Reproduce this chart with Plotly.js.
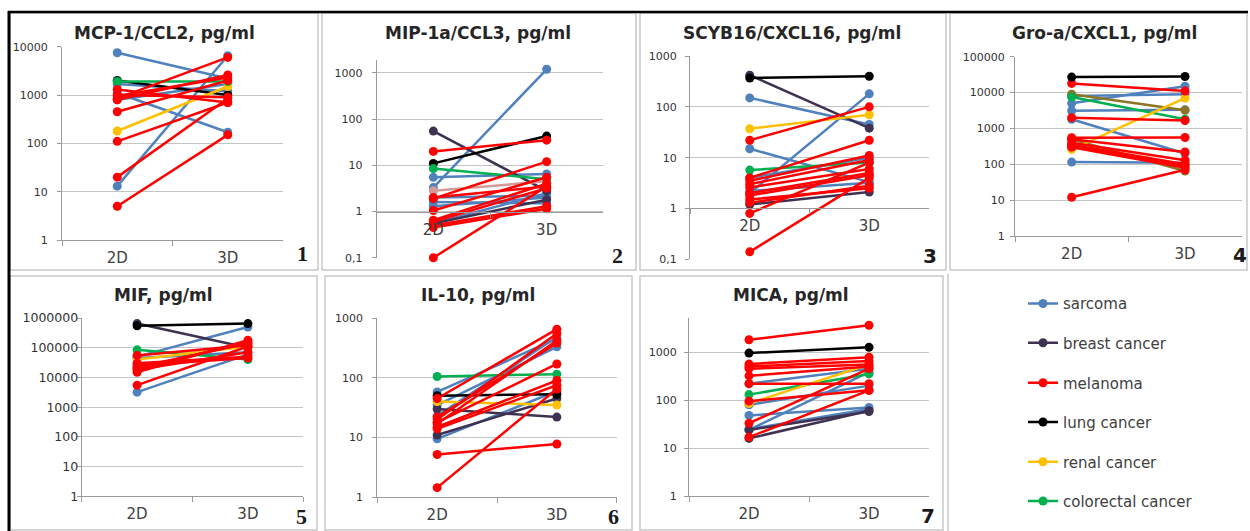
<!DOCTYPE html>
<html><head><meta charset="utf-8">
<script src="https://cdn.plot.ly/plotly-3.0.1.min.js"></script>
<style>html,body{margin:0;padding:0;background:#fff;}#chart{width:1250px;height:531px;}</style>
</head><body><div id="chart"></div>
<script>
// ---------- DATA ----------
const categories = ["2D", "3D"];
const cancerTypes = ["sarcoma", "breast cancer", "melanoma", "lung cancer", "renal cancer", "colorectal cancer"];
const panelTitles = ["MCP-1/CCL2, pg/ml", "MIP-1a/CCL3, pg/ml", "SCYB16/CXCL16, pg/ml", "Gro-a/CXCL1, pg/ml", "MIF, pg/ml", "IL-10, pg/ml", "MICA, pg/ml"];
const panelNumbers = ["1", "2", "3", "4", "5", "6", "7"];

// Panel 1: MCP-1/CCL2
const mcp_type = ["sarcoma","sarcoma","sarcoma","sarcoma","sarcoma","lung cancer","renal cancer","colorectal cancer","melanoma","melanoma","melanoma","melanoma","melanoma","melanoma","melanoma","melanoma","melanoma"];
const mcp_2D   = [7500, 13, 1100, 1700, 800, 2000, 180, 1900, 5, 20, 110, 450, 1300, 850, 800, 950, 1000];
const mcp_3D   = [2200, 6500, 170, 1200, 1700, 1000, 1500, 1900, 150, 850, 700, 2000, 700, 6000, 2600, 2300, 900];

// Panel 2: MIP-1a/CCL3
const mip_type = ["sarcoma","sarcoma","sarcoma","sarcoma","sarcoma","sarcoma","breast cancer","breast cancer","other","lung cancer","colorectal cancer","melanoma","melanoma","melanoma","melanoma","melanoma","melanoma","melanoma","melanoma","melanoma"];
const mip_2D   = [3.3, 5.5, 2.0, 1.3, 1.6, 0.55, 55, 0.55, 2.8, 11, 8.5, 20, 1.9, 2.0, 1.05, 0.65, 0.6, 0.5, 0.45, 0.1];
const mip_3D   = [1200, 6.5, 2.2, 2.0, 1.5, 2.5, 2.8, 1.8, 4.5, 43, 5, 35, 12, 3.5, 5.5, 4, 3.2, 1.3, 1.15, 3.5];

// Panel 3: SCYB16/CXCL16
const cxcl16_type = ["sarcoma","sarcoma","sarcoma","sarcoma","sarcoma","breast cancer","breast cancer","renal cancer","colorectal cancer","melanoma","melanoma","melanoma","melanoma","melanoma","melanoma","melanoma","melanoma","melanoma","melanoma","melanoma","lung cancer"];
const cxcl16_2D   = [150, 2, 15, 4, 2.2, 420, 1.2, 37, 5.7, 22, 4, 3.5, 3, 2.6, 2, 1.8, 1.5, 1.3, 0.8, 0.14, 370];
const cxcl16_3D   = [45, 180, 3.3, 10, 3.2, 38, 2.1, 70, 8, 100, 22, 11, 9, 6, 5, 4.5, 2.5, 2.8, 8, 4, 400];

// Panel 4: Gro-a/CXCL1
const gro_type = ["sarcoma","sarcoma","sarcoma","sarcoma","sarcoma","other2","other2","colorectal cancer","renal cancer","melanoma","melanoma","melanoma","melanoma","melanoma","melanoma","melanoma","melanoma","melanoma","lung cancer"];
const gro_2D   = [5000, 8000, 3100, 1800, 115, 9000, 500, 7500, 260, 18000, 2000, 550, 500, 400, 350, 300, 12, 320, 27000];
const gro_3D   = [15000, 9000, 3300, 200, 110, 3200, 65, 1800, 7000, 11000, 1650, 560, 220, 130, 100, 80, 70, 90, 28000];

// Panel 5: MIF
const mif_type = ["sarcoma","sarcoma","sarcoma","breast cancer","colorectal cancer","renal cancer","melanoma","melanoma","melanoma","melanoma","melanoma","melanoma","melanoma","melanoma","lung cancer"];
const mif_2D   = [50000, 3200, 45000, 650000, 85000, 40000, 5500, 15000, 20000, 25000, 30000, 55000, 18000, 22000, 550000];
const mif_3D   = [500000, 60000, 70000, 100000, 40000, 110000, 110000, 180000, 150000, 45000, 50000, 120000, 70000, 140000, 650000];

// Panel 6: IL-10
const il10_type = ["sarcoma","sarcoma","sarcoma","sarcoma","breast cancer","breast cancer","colorectal cancer","renal cancer","lung cancer","melanoma","melanoma","melanoma","melanoma","melanoma","melanoma","melanoma","melanoma","melanoma"];
const il10_2D   = [58, 35, 9.5, 23, 30, 11, 105, 40, 50, 45, 22, 20, 18, 15, 14, 5.2, 1.45, 17];
const il10_3D   = [450, 330, 60, 480, 22, 45, 115, 35, 53, 650, 380, 550, 170, 90, 75, 7.8, 65, 420];

// Panel 7: MICA
const mica_type = ["sarcoma","sarcoma","sarcoma","sarcoma","sarcoma","breast cancer","breast cancer","colorectal cancer","renal cancer","melanoma","melanoma","melanoma","melanoma","melanoma","melanoma","melanoma","melanoma","melanoma","lung cancer"];
const mica_2D   = [220, 80, 48, 24, 25, 16, 24, 130, 85, 1800, 560, 500, 450, 320, 220, 95, 33, 17, 950];
const mica_3D   = [450, 200, 70, 380, 65, 60, 58, 350, 550, 3600, 780, 650, 550, 500, 220, 160, 450, 160, 1250];

// Y tick values / labels
const ticks_1e4 = [1, 10, 100, 1000, 10000];
const ticks_01_1e3 = [0.1, 1, 10, 100, 1000];
const ticks_1e5 = [1, 10, 100, 1000, 10000, 100000];
const ticks_1e6 = [1, 10, 100, 1000, 10000, 100000, 1000000];
const ticks_1e3 = [1, 10, 100, 1000];
const labels_01 = ["0,1", "1", "10", "100", "1000"];

// ---------- STYLE / LAYOUT ----------
const W = 1250, H = 531;
const PX = v => v / W;
const PY = v => 1 - v / H;

const typeColors = {
  "sarcoma": "#4F81BD",
  "breast cancer": "#3F3151",
  "melanoma": "#FF0000",
  "lung cancer": "#000000",
  "renal cancer": "#FFC000",
  "colorectal cancer": "#00B050",
  "other": "#D49A97",
  "other2": "#8C7526"
};
const legendIds = ["legend", "legend2", "legend3", "legend4", "legend5", "legend6"];
const legendY = [303.7, 343, 383, 422.3, 462, 501.3];

const panelData = [
  [mcp_2D, mcp_3D, mcp_type, ticks_1e4, ticks_1e4.map(String)],
  [mip_2D, mip_3D, mip_type, ticks_01_1e3, labels_01],
  [cxcl16_2D, cxcl16_3D, cxcl16_type, ticks_01_1e3, labels_01],
  [gro_2D, gro_3D, gro_type, ticks_1e5, ticks_1e5.map(String)],
  [mif_2D, mif_3D, mif_type, ticks_1e6, ticks_1e6.map(String)],
  [il10_2D, il10_3D, il10_type, ticks_1e3, ticks_1e3.map(String)],
  [mica_2D, mica_3D, mica_type, ticks_1e3, ticks_1e3.map(String)]
];

const geom = [
  {x0: 62,    x1: 283,    yt: 46.7, yb: 240,   r: [0, 4],      cross: false, tf: 11,   so: 7,  title: [164, 33],    num: [302, 253],    numSerif: true},
  {x0: 376.7, x1: 603.3,  yt: 60,   yb: 257.7, r: [-1, 3.28],  cross: true,  tf: 11,   so: 7,  title: [477.5, 33],  num: [617, 256],    numSerif: true},
  {x0: 690,   x1: 929,    yt: 56,   yb: 259.3, r: [-1, 3],     cross: true,  tf: 11,   so: 6,  title: [791.7, 33],  num: [930, 256],    numSerif: false},
  {x0: 1015,  x1: 1241.7, yt: 56.7, yb: 236,   r: [0, 5],      cross: false, tf: 11,   so: 3,  title: [1104, 33],   num: [1240, 255],   numSerif: false},
  {x0: 81.7,  x1: 303.3,  yt: 318,  yb: 496.3, r: [0, 6],      cross: false, tf: 12.5, so: -4, title: [163.3, 294.5], num: [301.7, 516], numSerif: true},
  {x0: 377.3, x1: 616.7,  yt: 318,  yb: 497.3, r: [0, 3],      cross: false, tf: 11,   so: 7,  title: [477.5, 294.5], num: [613.3, 516], numSerif: true},
  {x0: 689,   x1: 929,    yt: 318,  yb: 496.3, r: [0, 3.707],  cross: false, tf: 11,   so: 5,  title: [790.8, 294.5], num: [928, 516],   numSerif: false}
];

const FONT = "DejaVu Sans, Verdana, sans-serif";
const axisColor = "#9a9a9a";
const gridColor = "#c4c4c4";

const layout = {
  width: W, height: H,
  margin: {l: 0, r: 0, t: 0, b: 0},
  paper_bgcolor: "#ffffff",
  plot_bgcolor: "rgba(0,0,0,0)",
  showlegend: true,
  hovermode: false,
  annotations: [],
  shapes: []
};

const traces = [];
const shown = new Set();

panelData.forEach((pd, i) => {
  const [v2, v3, tp, tv, tt] = pd;
  const g = geom[i];
  const k = i + 1;
  const sfx = k === 1 ? "" : String(k);
  const ydom = [PY(g.yb), PY(g.yt)];
  const xa = {
    domain: [PX(g.x0), PX(g.x1)],
    type: "category",
    categoryorder: "array",
    categoryarray: categories,
    range: [-0.5, 1.5],
    tickson: "boundaries",
    ticks: "outside", ticklen: 5, tickcolor: axisColor, tickwidth: 1,
    showline: true, linecolor: axisColor, linewidth: 1,
    showgrid: false, zeroline: false,
    tickfont: {family: FONT, size: 15, color: "#404040"},
    ticklabelstandoff: 4,
    fixedrange: true
  };
  if (g.cross) {
    xa.anchor = "free";
    xa.position = ydom[0] + (0 - g.r[0]) / (g.r[1] - g.r[0]) * (ydom[1] - ydom[0]);
  } else {
    xa.anchor = "y" + sfx;
  }
  layout["xaxis" + sfx] = xa;
  layout["yaxis" + sfx] = {
    domain: ydom,
    anchor: "x" + sfx,
    type: "log",
    range: g.r,
    tickmode: "array", tickvals: tv, ticktext: tt,
    ticks: "outside", ticklen: 4, tickcolor: axisColor, tickwidth: 1,
    showline: true, linecolor: axisColor, linewidth: 1,
    showgrid: true, gridcolor: gridColor, gridwidth: 1,
    zeroline: false,
    tickfont: {family: FONT, size: g.tf, color: "#333333"},
    ticklabelstandoff: g.so,
    fixedrange: true
  };

  for (let j = 0; j < v2.length; j++) {
    const t = tp[j];
    const li = cancerTypes.indexOf(t);
    const show = li >= 0 && !shown.has(t);
    if (show) shown.add(t);
    const tr = {
      type: "scatter", mode: "lines+markers",
      x: categories, y: [v2[j], v3[j]],
      xaxis: "x" + sfx, yaxis: "y" + sfx,
      name: t, legendgroup: t,
      showlegend: show,
      line: {color: typeColors[t], width: 2.5},
      marker: {color: typeColors[t], size: 9},
      cliponaxis: false,
      hoverinfo: "skip"
    };
    if (li >= 0) { tr.legend = legendIds[li]; tr.legendrank = li; }
    traces.push(tr);
  }

  layout.annotations.push({
    xref: "paper", yref: "paper", x: PX(g.title[0]), y: PY(g.title[1]),
    xanchor: "center", yanchor: "middle", showarrow: false,
    text: "<b>" + panelTitles[i] + "</b>",
    font: {family: FONT, size: 17, color: "#262626"}
  });
  layout.annotations.push({
    xref: "paper", yref: "paper", x: PX(g.num[0]), y: PY(g.num[1]),
    xanchor: "center", yanchor: "middle", showarrow: false,
    text: "<b>" + panelNumbers[i] + "</b>",
    font: {family: g.numSerif ? "Liberation Serif, serif" : FONT, size: g.numSerif ? 22 : 20, color: "#1a1a1a"}
  });
});

// legends
cancerTypes.forEach((t, li) => {
  layout[legendIds[li]] = {
    x: PX(1023), y: PY(legendY[li]), xanchor: "left", yanchor: "middle",
    bgcolor: "rgba(0,0,0,0)", borderwidth: 0,
    font: {family: FONT, size: 15, color: "#404040"},
    itemwidth: 30, tracegroupgap: 0
  };
});

// panel frames
const boxes = [[10,13,318,270],[322,13,636,270],[640,13,946,270],[950,13,1247,270],[10,276,317,530],[325,276,632,530],[640,276,943,530]];
boxes.forEach(b => {
  layout.shapes.push({type: "rect", xref: "paper", yref: "paper", x0: PX(b[0]), x1: PX(b[2]), y0: PY(b[3]), y1: PY(b[1]), line: {color: "#c8c8c8", width: 1.5}, fillcolor: "rgba(0,0,0,0)", layer: "below"});
});
layout.shapes.push({type: "line", xref: "paper", yref: "paper", x0: PX(948), x1: PX(948), y0: PY(274), y1: PY(531), line: {color: "#c8c8c8", width: 1.5}});
layout.shapes.push({type: "line", xref: "paper", yref: "paper", x0: PX(8), x1: PX(1248), y0: PY(12), y1: PY(12), line: {color: "#000000", width: 2.5}});
layout.shapes.push({type: "line", xref: "paper", yref: "paper", x0: PX(9), x1: PX(9), y0: PY(11), y1: PY(531), line: {color: "#000000", width: 3}});

Plotly.newPlot("chart", traces, layout, {displayModeBar: false, staticPlot: true});
</script>
</body></html>
